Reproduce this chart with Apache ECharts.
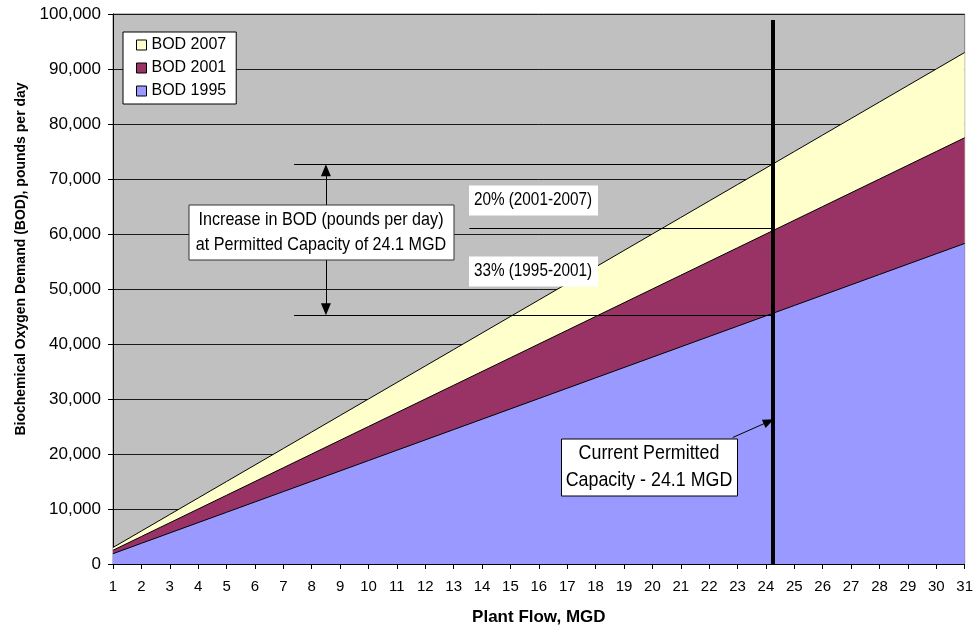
<!DOCTYPE html>
<html>
<head>
<meta charset="utf-8">
<script src="https://cdn.jsdelivr.net/npm/echarts@6/dist/echarts.min.js"></script>
<style>
html,body{margin:0;padding:0;background:#fff;}
#chart{width:976px;height:631px;}
</style>
</head>
<body>
<div id="chart"></div>
<script>
// ---- data ----
var flowMGD = [1,2,3,4,5,6,7,8,9,10,11,12,13,14,15,16,17,18,19,20,21,22,23,24,25,26,27,28,29,30,31];
var bod2007 = [3000,6000,9000,12000,15000,18000,21000,24000,27000,30000,33000,36000,39000,42000,45000,48000,51000,54000,57000,60000,63000,66000,69000,72000,75000,78000,81000,84000,87000,90000,93000];
var bod2001 = [2500,5000,7500,10000,12500,15000,17500,20000,22500,25000,27500,30000,32500,35000,37500,40000,42500,45000,47500,50000,52500,55000,57500,60000,62500,65000,67500,70000,72500,75000,77500];
var bod1995 = [1880,3760,5640,7520,9400,11280,13160,15040,16920,18800,20680,22560,24440,26320,28200,30080,31960,33840,35720,37600,39480,41360,43240,45120,47000,48880,50760,52640,54520,56400,58280];
var seriesNames = ['BOD 2007','BOD 2001','BOD 1995'];
var yTicks = [0,10000,20000,30000,40000,50000,60000,70000,80000,90000,100000];

var permittedCapacity = 24.25;      // drawn position of the 24.1 MGD line
var levelAt2007 = 72650;
var levelAt2001 = 61050;
var levelAt1995 = 45290;
var bracketFlow = 8.5;
var lineStartFlow = 7.38;
var midLineStartFlow = 13.55;

var chart = echarts.init(document.getElementById('chart'));

function pairs(xs, ys){ return xs.map(function(x,i){ return [x, ys[i]]; }); }

var FONT = '"Liberation Sans", Arial, sans-serif';

var option = {
  animation: false,
  backgroundColor: '#ffffff',
  textStyle: { fontFamily: FONT },
  grid: { left: 113, right: 11, top: 14, bottom: 65, show: true, backgroundColor: '#C0C0C0', borderColor: '#808080', borderWidth: 1 },
  legend: {
    orient: 'vertical', left: 123, top: 32,
    data: seriesNames,
    icon: 'rect', itemWidth: 10, itemHeight: 10, itemGap: 7,
    padding: [5, 10, 5, 13],
    backgroundColor: '#ffffff', borderColor: '#000000', borderWidth: 1,
    itemStyle: { borderColor: '#000000', borderWidth: 1 },
    textStyle: { fontSize: 16, color: '#000', fontFamily: FONT }
  },
  xAxis: {
    type: 'value', min: 1, max: 31, interval: 1,
    name: 'Plant Flow, MGD', nameLocation: 'middle', nameGap: 45,
    nameTextStyle: { fontSize: 17, fontWeight: 'bold', color: '#000', fontFamily: FONT },
    axisLine: { show: true, lineStyle: { color: '#000', width: 1 } },
    axisTick: { show: true, length: 5, lineStyle: { color: '#000' } },
    axisLabel: { fontSize: 15, color: '#000', margin: 15, fontFamily: FONT },
    splitLine: { show: false }
  },
  yAxis: {
    type: 'value', min: yTicks[0], max: yTicks[yTicks.length-1], interval: yTicks[1]-yTicks[0],
    axisLine: { show: true, lineStyle: { color: '#000', width: 1 } },
    axisTick: { show: true, length: 5, lineStyle: { color: '#000' } },
    axisLabel: { fontSize: 17, color: '#000', margin: 12, fontFamily: FONT,
      formatter: function(v){ return v.toLocaleString('en-US'); } },
    splitLine: { show: true, lineStyle: { color: '#1a1a1a', width: 1 } }
  },
  series: [
    { name: seriesNames[0], type: 'line', data: pairs(flowMGD, bod2007), symbol: 'none', color: '#FFFFCC',
      lineStyle: { color: '#000', width: 1 }, areaStyle: { color: '#FFFFCC', opacity: 1 }, z: 2 },
    { name: seriesNames[1], type: 'line', data: pairs(flowMGD, bod2001), symbol: 'none', color: '#993366',
      lineStyle: { color: '#000', width: 1 }, areaStyle: { color: '#993366', opacity: 1 }, z: 3 },
    { name: seriesNames[2], type: 'line', data: pairs(flowMGD, bod1995), symbol: 'none', color: '#9999FF',
      lineStyle: { color: '#000', width: 1 }, areaStyle: { color: '#9999FF', opacity: 1 }, z: 4,
      markLine: {
        silent: true, symbol: ['none','none'], label: { show: false },
        lineStyle: { color: '#000', width: 1, type: 'solid' },
        data: [
          [{ coord: [lineStartFlow, levelAt2007] }, { coord: [permittedCapacity, levelAt2007] }],
          [{ coord: [midLineStartFlow, levelAt2001] }, { coord: [permittedCapacity, levelAt2001] }],
          [{ coord: [lineStartFlow, levelAt1995] }, { coord: [permittedCapacity, levelAt1995] }],
          [{ coord: [bracketFlow, levelAt2007 - 1050], symbol: 'triangle', symbolSize: [10, 12] },
           { coord: [bracketFlow, levelAt1995 + 1050], symbol: 'triangle', symbolSize: [10, 12] }],
          [{ coord: [permittedCapacity, 98900], lineStyle: { width: 4 } }, { coord: [permittedCapacity, 0] }],
          [{ coord: [22.83, 23000] }, { coord: [24.1, 25900], symbol: 'triangle', symbolSize: [9, 11] }]
        ]
      }
    }
  ]
};
chart.setOption(option);

// ---- annotations positioned in data coordinates ----
var notes = [
  { text: 'Increase in BOD (pounds per day)\nat Permitted Capacity of 24.1 MGD', at: [8.34, 60420], w: 265, h: 55, size: 19, lh: 25, border: '#333333' },
  { text: '20% (2001-2007)', at: [15.81, 66120], w: 129, h: 30, size: 18, lh: 20, border: null },
  { text: '33% (1995-2001)', at: [15.81, 53260], w: 129, h: 30, size: 18, lh: 20, border: null },
  { text: 'Current Permitted\nCapacity - 24.1 MGD', at: [19.87, 17660], w: 176, h: 57, size: 21, lh: 27, border: '#000000' }
];
var g = [];
notes.forEach(function(n){
  var p = chart.convertToPixel({ gridIndex: 0 }, n.at);
  var cx = Math.round(p[0]), cy = Math.round(p[1]);
  g.push({ type: 'rect', z: 100, shape: { x: cx - n.w/2 + 0.5, y: cy - n.h/2 + 0.5, width: n.w, height: n.h },
    style: { fill: '#ffffff', stroke: n.border || null, lineWidth: n.border ? 1 : 0 } });
  g.push({ type: 'text', z: 101, x: cx, y: cy, scaleX: 0.85,
    style: { text: n.text, fill: '#000', font: n.size + 'px ' + FONT, align: 'center', verticalAlign: 'middle', lineHeight: n.lh } });
});
g.push({
  type: 'text', x: 21, y: 259, rotation: Math.PI/2, z: 100,
  style: { text: 'Biochemical Oxygen Demand (BOD), pounds per day', fill: '#000', font: 'bold 14px ' + FONT, align: 'center', verticalAlign: 'middle' }
});
chart.setOption({ graphic: g });
</script>
</body>
</html>
